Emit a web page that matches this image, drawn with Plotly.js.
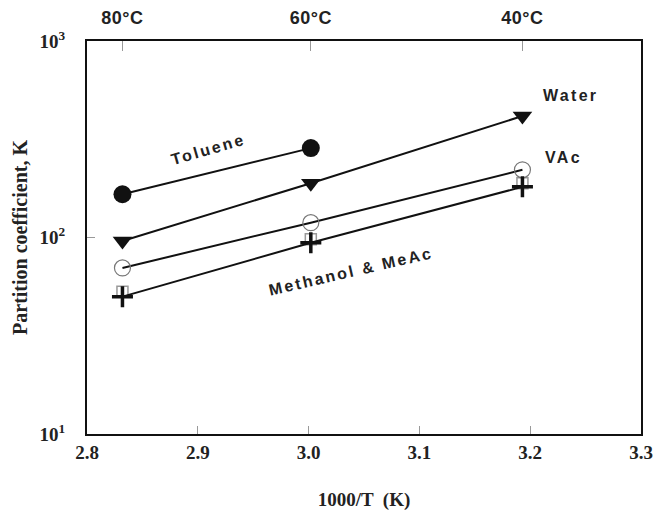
<!DOCTYPE html>
<html>
<head>
<meta charset="utf-8">
<script src="https://cdn.plot.ly/plotly-3.0.1.min.js"></script>
<style>
body{margin:0;background:#fff}
#c{width:654px;height:513px}
.annotation-text{letter-spacing:2.3px}
.x2tick text{letter-spacing:0.5px}
</style>
</head>
<body>
<div id="c"></div>
<script>
const invT = [2.832, 3.002, 3.193];
const topTickVals = [2.832, 3.002, 3.193];
const topTickText = ['80°C', '60°C', '40°C'];
const toluene = [166, 285];
const water = [96, 189, 415];
const vac = [70, 119, 221];
const methanol = [50, 94, 181];
const meac = [53, 98, 189];
const yTickVals = [10, 100, 1000];
const yTickText = ['10<sup>1</sup>', '10<sup>2</sup>', '10<sup>3</sup>'];
const xTickVals = [2.8, 2.9, 3.0, 3.1, 3.2, 3.3];
const xTickText = ['2.8', '2.9', '3.0', '3.1', '3.2', '3.3'];

const bold = a => a.map(s => '<b>' + s + '</b>');
const lineStyle = {color: '#111', width: 2};
const traces = [
  {x: invT.slice(0, 2), y: toluene, mode: 'lines+markers', line: lineStyle,
   marker: {symbol: 'circle', size: 18, color: '#111'}},
  {x: invT, y: water, mode: 'lines+markers', line: lineStyle,
   marker: {symbol: 'triangle-down', size: 17, color: '#111'}},
  {x: invT, y: meac, mode: 'markers',
   marker: {symbol: 'square-open', size: 11, color: '#999', line: {width: 1.5, color: '#999'}}},
  {x: invT, y: vac, mode: 'lines+markers', line: lineStyle,
   marker: {symbol: 'circle-open', size: 16, color: '#777', line: {width: 1.2, color: '#777'}}},
  {x: invT, y: methanol, mode: 'lines+markers', line: lineStyle,
   marker: {symbol: 'cross-thin-open', size: 15, color: '#111', line: {width: 3.5, color: '#111'}}},
  {x: topTickVals, y: [10, 10, 10], xaxis: 'x2', mode: 'markers', marker: {opacity: 0}, hoverinfo: 'skip'}
];

const serif = 'Liberation Serif, Times New Roman, serif';
const sans = 'Liberation Sans, Arial, sans-serif';
const layout = {
  width: 654, height: 513,
  margin: {l: 87, r: 13, t: 41, b: 79},
  showlegend: false,
  paper_bgcolor: '#fff', plot_bgcolor: '#fff',
  xaxis: {
    range: [2.8, 3.3], tickvals: xTickVals, ticktext: bold(xTickText),
    ticks: 'inside', ticklen: 8, tickcolor: '#999', tickwidth: 1,
    showline: true, linecolor: '#111', linewidth: 2, mirror: false,
    showgrid: false, zeroline: false, ticklabelstandoff: 0,
    tickfont: {family: serif, size: 19, color: '#222'},
    title: {text: '<b>1000/T  (K)</b>', font: {family: serif, size: 19, color: '#222'}, standoff: 31}
  },
  xaxis2: {
    overlaying: 'x', side: 'top', range: [2.8, 3.3],
    tickvals: topTickVals, ticktext: bold(topTickText),
    ticks: 'inside', ticklen: 10, tickcolor: '#999', tickwidth: 1,
    showline: true, linecolor: '#111', linewidth: 2,
    showgrid: false, zeroline: false, ticklabelstandoff: 8,
    tickfont: {family: sans, size: 18, color: '#222'}
  },
  yaxis: {
    type: 'log', range: [1, 3], tickvals: yTickVals, ticktext: bold(yTickText),
    ticks: 'inside', ticklen: 8, tickcolor: '#999', tickwidth: 1,
    showline: true, linecolor: '#111', linewidth: 2, mirror: true,
    showgrid: false, zeroline: false, ticklabelstandoff: 16,
    tickfont: {family: serif, size: 19, color: '#222'},
    title: {text: '<b>Partition coefficient, K</b>', font: {family: serif, size: 20, color: '#222'}, standoff: 7}
  },
  annotations: [
    {x: 2.909, y: Math.log10(282), xref: 'x', yref: 'y', text: '<b>Toluene</b>', showarrow: false, textangle: -16,
     font: {family: sans, size: 16, color: '#222'}},
    {x: 3.236, y: Math.log10(525), xref: 'x', yref: 'y', text: '<b>Water</b>', showarrow: false,
     font: {family: sans, size: 16, color: '#222'}},
    {x: 3.23, y: Math.log10(255), xref: 'x', yref: 'y', text: '<b>VAc</b>', showarrow: false,
     font: {family: sans, size: 16, color: '#222'}},
    {x: 3.038, y: Math.log10(67), xref: 'x', yref: 'y', text: '<b>Methanol & MeAc</b>', showarrow: false, textangle: -13,
     font: {family: sans, size: 16, color: '#222'}}
  ]
};
Plotly.newPlot('c', traces, layout, {displayModeBar: false, staticPlot: true});
</script>
</body>
</html>
